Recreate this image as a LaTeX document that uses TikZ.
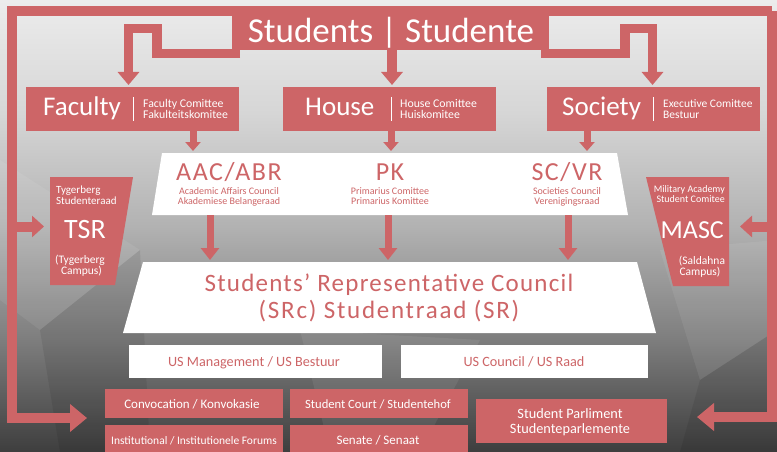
\documentclass[tikz,border=0pt]{standalone}
\usepackage{fontspec}
\setmainfont{Carlito}
\usetikzlibrary{arrows.meta}
\definecolor{srred}{RGB}{205,101,103}
\definecolor{bgA}{RGB}{236,236,236}
\definecolor{bgB}{RGB}{214,214,214}
\definecolor{bgC}{RGB}{178,178,178}
\definecolor{bgD}{RGB}{126,126,126}
\definecolor{bgE}{RGB}{62,62,62}
\pgfdeclareverticalshading{bgshade}{100bp}{color(0bp)=(bgE); color(25bp)=(bgE); color(37.5bp)=(bgD); color(50bp)=(bgC); color(62.5bp)=(bgB); color(75bp)=(bgA); color(100bp)=(bgA)}
\newcommand\fsz[1]{\fontsize{#1}{#1}\selectfont}
\begin{document}
\begin{tikzpicture}[x=1pt,y=-1pt,
 rbox/.style={fill=srred,inner sep=0pt,outer sep=0pt,anchor=north west},
 wbox/.style={fill=white,inner sep=0pt,outer sep=0pt,anchor=north west},
 area/.style={inner sep=0pt,outer sep=0pt,anchor=north west},
 wtxt/.style={text=white,inner sep=0pt},
 rtxt/.style={text=srred,inner sep=0pt},
 sep/.style={draw=white,line width=0.7pt},
 litefacet/.style={fill=white,fill opacity=0.07},
 darkfacet/.style={fill=black,fill opacity=0.08},
 frame/.style={draw=srred,line width=10pt,line join=miter,line cap=butt},
 bigarr/.style={draw=srred,line width=9.5pt,line join=miter,-{Triangle[width=21pt,length=13pt]},shorten >=2pt},
 smallarr/.style={draw=srred,line width=7pt,-{Triangle[width=15pt,length=9pt]},shorten >=2pt},
 medarr/.style={draw=srred,line width=7pt,-{Triangle[width=18pt,length=12pt]},shorten >=2pt}
]
\shade[shading=bgshade] (0,0) rectangle (777,452);
\useasboundingbox (0,0) rectangle (777,452);
% background facets
\fill[litefacet] (0,160) -- (140,250) -- (40,330) -- (0,300) -- cycle;
\fill[darkfacet] (40,330) -- (140,250) -- (150,452) -- (60,452) -- cycle;
\fill[litefacet] (660,250) -- (777,240) -- (777,330) -- (700,380) -- cycle;
\fill[darkfacet] (700,380) -- (777,330) -- (777,452) -- (680,452) -- cycle;
\fill[litefacet] (300,330) -- (480,340) -- (420,452) -- (330,452) -- cycle;

% frame
\coordinate (tl) at (12,11.5);
\coordinate (tr) at (772,11.5);
\coordinate (tsrin) at (44,226.5);
\coordinate (mascin) at (740,226.5);

% boxes
\node[rbox,minimum width=317pt,minimum height=44pt] (students) at (232,6) {};
\node[rbox,minimum width=213pt,minimum height=44pt] (faculty) at (26,87) {};
\node[rbox,minimum width=213pt,minimum height=44pt] (house) at (283,87) {};
\node[rbox,minimum width=213pt,minimum height=44pt] (society) at (547,87) {};
\node[wbox,minimum width=253pt,minimum height=33pt] (usman) at (129,345) {};
\node[wbox,minimum width=247pt,minimum height=33pt] (uscouncil) at (401,345) {};
\node[rbox,minimum width=178pt,minimum height=29pt] (conv) at (105,389) {};
\node[rbox,minimum width=178pt,minimum height=30pt] (inst) at (105,425) {};
\node[rbox,minimum width=178pt,minimum height=29pt] (court) at (290,389) {};
\node[rbox,minimum width=178pt,minimum height=30pt] (senate) at (290,425) {};
\node[rbox,minimum width=191pt,minimum height=44pt] (parl) at (476,399) {};

% trapezoids
\fill[white] (162,153) -- (617,153) -- (628,215) -- (152,215) -- cycle;
\node[area,minimum width=476pt,minimum height=62pt] (council) at (152,153) {};
\fill[white] (143,262) -- (637,262) -- (656,333) -- (123,333) -- cycle;
\node[area,minimum width=533pt,minimum height=71pt] (src) at (123,262) {};
\fill[srred] (50,177) -- (133,177) -- (115,285) -- (50,285) -- cycle;
\node[area,minimum width=83pt,minimum height=108pt] (tsr) at (50,177) {};
\fill[srred] (646,177) -- (729,177) -- (729,286) -- (673,286) -- cycle;
\node[area,minimum width=83pt,minimum height=109pt] (masc) at (646,177) {};

% frame connectors
\draw[frame,-{Triangle[width=27pt,length=17pt]}] (tr) -- (tl) |- ([xshift=-18pt]conv.south west);
\draw[frame,-{Triangle[width=27pt,length=17pt]}] (tr) |- ([xshift=30pt,yshift=4pt]parl.east);
\draw[frame,-{Triangle[width=21pt,length=12pt]}] (tl |- tsrin) -- (tsrin);
\draw[frame,-{Triangle[width=21pt,length=12pt]}] (tr |- mascin) -- (mascin);

% top connectors
\draw[bigarr] ([xshift=8pt,yshift=-3.5pt]students.south west) -- (157,53.5) -- (157,28.5) -- (128.5,28.5) -- ([xshift=-4pt]faculty.north);
\draw[bigarr] ([xshift=1.5pt]students.south) -- ([xshift=1.5pt]students.south |- house.north);
\draw[bigarr] ([xshift=-8pt,yshift=-3.5pt]students.south east) -- (625,53.5) -- (625,28.5) -- (652.5,28.5) -- ([xshift=-1pt]society.north);

\draw[smallarr] ([xshift=60.5pt]faculty.south) -- ([xshift=60.5pt]faculty.south |- council.north);
\draw[smallarr] ([xshift=1.5pt]house.south) -- ([xshift=1.5pt]house.south |- council.north);
\draw[smallarr] ([xshift=-66.5pt]society.south) -- ([xshift=-66.5pt]society.south |- council.north);

\draw[medarr] ([xshift=-180pt]council.south) -- ([xshift=-180pt]council.south |- src.north);
\draw[medarr] ([xshift=-2pt]council.south) -- ([xshift=-2pt]council.south |- src.north);
\draw[medarr] ([xshift=178pt]council.south) -- ([xshift=178pt]council.south |- src.north);

% texts
\node[wtxt,anchor=base,font=\fsz{35}] (studtxt) at (391,43) {Students | Studente};

\node[wtxt,anchor=base west,font=\fsz{27}] (facbig) at (43,115) {Faculty};
\draw[sep] (133,97) -- (133,121);
\node[wtxt,anchor=base west,font=\fsz{11.8}] (fac1) at (143,107) {Faculty Comittee};
\node[wtxt,anchor=base west,font=\fsz{11.8}] (fac2) at (143,118) {Fakulteitskomitee};

\node[wtxt,anchor=base west,font=\fsz{27}] (housebig) at (305,115) {House};
\draw[sep] (391,97) -- (391,121);
\node[wtxt,anchor=base west,font=\fsz{11.8}] (hou1) at (400,107) {House Comittee};
\node[wtxt,anchor=base west,font=\fsz{11.8}] (hou2) at (400,118) {Huiskomitee};

\node[wtxt,anchor=base west,font=\fsz{27}] (socbig) at (562,115) {Society};
\draw[sep] (653,97) -- (653,121);
\node[wtxt,anchor=base west,font=\fsz{11.5}] (soc1) at (663,107) {Executive Comittee};
\node[wtxt,anchor=base west,font=\fsz{11.5}] (soc2) at (663,118) {Bestuur};

\node[rtxt,anchor=base,font={\fsz{26}\addfontfeature{LetterSpace=6}}] (aac) at (229,180) {AAC/ABR};
\node[rtxt,anchor=base,font=\fsz{10}] (aac1) at (229,194) {Academic Affairs Council};
\node[rtxt,anchor=base,font=\fsz{10}] (aac2) at (229,204) {Akademiese Belangeraad};
\node[rtxt,anchor=base,font={\fsz{26}\addfontfeature{LetterSpace=6}}] (pk) at (390,180) {PK};
\node[rtxt,anchor=base,font=\fsz{10}] (pk1) at (390,194) {Primarius Comittee};
\node[rtxt,anchor=base,font=\fsz{10}] (pk2) at (390,204) {Primarius Komittee};
\node[rtxt,anchor=base,font={\fsz{26}\addfontfeature{LetterSpace=6}}] (scvr) at (567,180) {SC/VR};
\node[rtxt,anchor=base,font=\fsz{10}] (sc1) at (567,194) {Societies Council};
\node[rtxt,anchor=base,font=\fsz{10}] (sc2) at (567,204) {Verenigingsraad};

\node[rtxt,anchor=base,font={\fsz{25}\addfontfeature{LetterSpace=5}}] (src1) at (389,291) {Students’ Representative Council};
\node[rtxt,anchor=base,font={\fsz{25}\addfontfeature{LetterSpace=7}}] (src2) at (389,318) {(SRc) Studentraad (SR)};

\node[wtxt,anchor=base west,font=\fsz{11}] (tsr1) at (56,193) {Tygerberg};
\node[wtxt,anchor=base west,font=\fsz{11}] (tsr2) at (56,204) {Studenteraad};
\node[wtxt,anchor=base,font=\fsz{28}] (tsrbig) at (85,238) {TSR};
\node[wtxt,anchor=base,font=\fsz{11.5}] (tsr3) at (80,263) {(Tygerberg};
\node[wtxt,anchor=base,font=\fsz{11.5}] (tsr4) at (81.5,274) {Campus)};

\node[wtxt,anchor=base east,font=\fsz{10}] (masc1) at (725,192) {Military Academy};
\node[wtxt,anchor=base east,font=\fsz{10}] (masc2) at (725,202) {Student Comitee};
\node[wtxt,anchor=base east,font=\fsz{26}] (mascbig) at (724,238) {MASC};
\node[wtxt,anchor=base,font=\fsz{11.5}] (masc3) at (702,264) {(Saldahna};
\node[wtxt,anchor=base,font=\fsz{11.5}] (masc4) at (700,275) {Campus)};

\node[rtxt,anchor=base,font=\fsz{14.2}] (usmant) at (254,366) {US Management / US Bestuur};
\node[rtxt,anchor=base,font=\fsz{14.2}] (uscout) at (524,366) {US Council / US Raad};

\node[wtxt,anchor=base,font=\fsz{13}] (convt) at (192,408) {Convocation / Konvokasie};
\node[wtxt,anchor=base,font=\fsz{11.5}] (instt) at (194,444) {Institutional / Institutionele Forums};
\node[wtxt,anchor=base,font=\fsz{12.6}] (courtt) at (378,408) {Student Court / Studentehof};
\node[wtxt,anchor=base,font=\fsz{13}] (senatet) at (378,444) {Senate / Senaat};
\node[wtxt,anchor=base,font=\fsz{14.3}] (parl1) at (570,418) {Student Parliment};
\node[wtxt,anchor=base,font=\fsz{14.3}] (parl2) at (570,433) {Studenteparlemente};
\end{tikzpicture}
\end{document}
